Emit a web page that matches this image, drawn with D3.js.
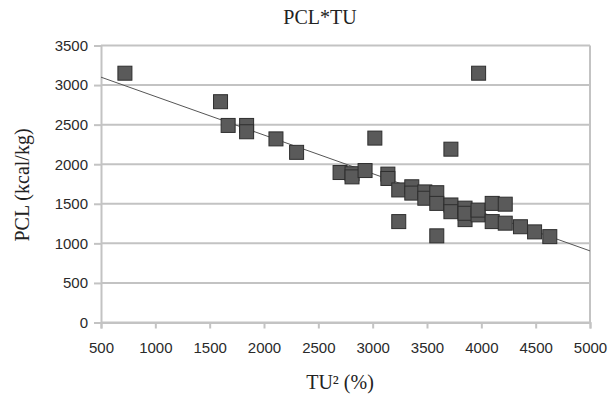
<!DOCTYPE html>
<html>
<head>
<meta charset="utf-8">
<script src="https://cdn.jsdelivr.net/npm/d3@7"></script>
<style>
  body { margin: 0; background: #fff; }
  svg { display: block; }
</style>
</head>
<body>
<div id="chart"></div>
<script>
// TU² (%) values
const tuVals = [720, 3975, 1600, 1670, 1840, 1840, 2110, 2300, 3020, 3720,
  2700, 2810, 2810, 2930, 3140, 3140, 3240, 3240, 3360, 3360,
  3480, 3480, 3590, 3590, 3590, 3720, 3720, 3850, 3850, 3850,
  3970, 3970, 4100, 4100, 4220, 4220, 4360, 4490, 4630];
// PCL (kcal/kg) values
const pclVals = [3150, 3150, 2790, 2490, 2490, 2410, 2320, 2150, 2330, 2190,
  1895, 1880, 1840, 1920, 1875, 1820, 1675, 1275, 1715, 1635,
  1650, 1570, 1640, 1505, 1095, 1485, 1400, 1445, 1300, 1380,
  1360, 1420, 1505, 1275, 1495, 1255, 1210, 1145, 1085];
// trend line end points
const trendX = [500, 5000];
const trendY = [3100, 905];

const xTicks = [500, 1000, 1500, 2000, 2500, 3000, 3500, 4000, 4500, 5000];
const yTicks = [0, 500, 1000, 1500, 2000, 2500, 3000, 3500];

const w = 610, h = 396;
const padL = 101, padR = 590, padT = 45.5, padB = 322.5;

const x = d3.scaleLinear().domain([500, 5000]).range([padL, padR]);
const y = d3.scaleLinear().domain([0, 3500]).range([padB, padT]);

const svg = d3.select("#chart").append("svg")
  .attr("width", w).attr("height", h);

// gridlines
svg.append("g").selectAll("line").data(yTicks).enter().append("line")
  .attr("x1", padL).attr("x2", padR)
  .attr("y1", d => y(d)).attr("y2", d => y(d))
  .attr("stroke", "#c3c3c3").attr("stroke-width", 2);

// right border
svg.append("line")
  .attr("x1", padR).attr("x2", padR).attr("y1", padT).attr("y2", padB)
  .attr("stroke", "#c3c3c3").attr("stroke-width", 2);

const xAxis = d3.axisBottom(x).tickValues(xTicks).tickSize(6).tickPadding(14).tickFormat(d3.format("d"));
const yAxis = d3.axisLeft(y).tickValues(yTicks).tickSize(7).tickPadding(6).tickFormat(d3.format("d"));

const gx = svg.append("g").attr("transform", "translate(0," + padB + ")").call(xAxis);
const gy = svg.append("g").attr("transform", "translate(" + padL + ",0)").call(yAxis);

[gx, gy].forEach(g => {
  g.select(".domain").attr("stroke", "#c3c3c3").attr("stroke-width", 2);
  g.selectAll(".tick line").attr("stroke", "#c3c3c3").attr("stroke-width", 2);
  g.selectAll(".tick text")
    .attr("fill", "#2a2a2a")
    .style("font-family", "'Liberation Sans', Arial, sans-serif")
    .style("font-size", "15px");
});

// trend line
svg.append("line")
  .attr("x1", x(trendX[0])).attr("y1", y(trendY[0]))
  .attr("x2", x(trendX[1])).attr("y2", y(trendY[1]))
  .attr("stroke", "#555").attr("stroke-width", 1);

// markers
const pts = tuVals.map((v, i) => [v, pclVals[i]]);
const s = 14;
svg.append("g").selectAll("rect").data(pts).enter().append("rect")
  .attr("x", d => x(d[0]) - s / 2)
  .attr("y", d => y(d[1]) - s / 2)
  .attr("width", s).attr("height", s)
  .attr("fill", "#5a5a5a")
  .attr("stroke", "#2e2e2e").attr("stroke-width", 1);

// titles
const serif = "'Liberation Serif', 'Times New Roman', serif";
svg.append("text")
  .attr("x", 320).attr("y", 24)
  .attr("text-anchor", "middle")
  .style("font-family", serif).style("font-size", "20px").attr("fill", "#222")
  .text("PCL*TU");

svg.append("text")
  .attr("x", 340).attr("y", 389)
  .attr("text-anchor", "middle")
  .style("font-family", serif).style("font-size", "20px").attr("fill", "#222")
  .text("TU² (%)");

svg.append("text")
  .attr("transform", "translate(29," + 185 + ") rotate(-90)")
  .attr("text-anchor", "middle")
  .style("font-family", serif).style("font-size", "20px").attr("fill", "#222")
  .text("PCL (kcal/kg)");
</script>
</body>
</html>
